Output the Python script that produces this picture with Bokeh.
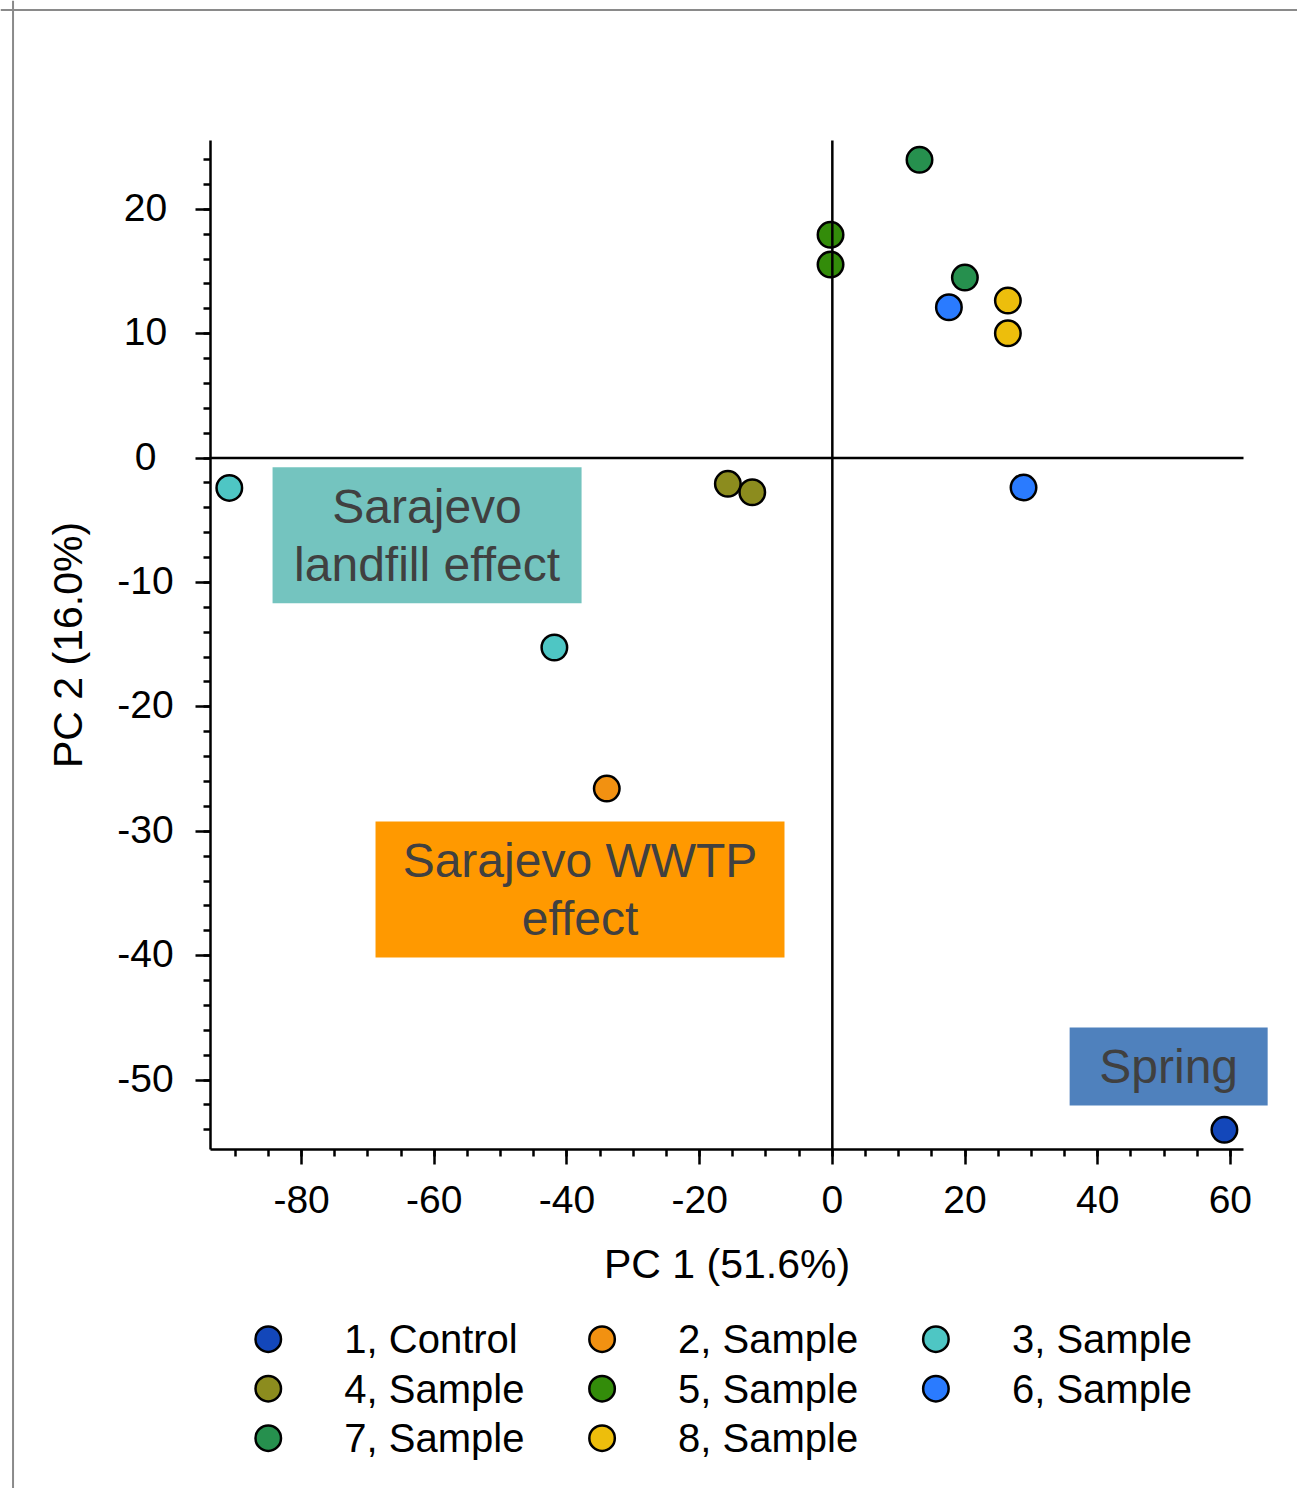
from bokeh.plotting import figure
from bokeh.models import FixedTicker, Span, Range1d, ColumnDataSource
from bokeh.core.properties import value
from bokeh.embed import file_html
from bokeh.resources import INLINE

FONT = "Liberation Sans"

# ---------------- data ----------------
group_names = ["1, Control", "2, Sample", "3, Sample", "4, Sample",
               "5, Sample", "6, Sample", "7, Sample", "8, Sample"]
group_colors = ["#1347BA", "#F29111", "#4EC6C4", "#8C8C1E",
                "#338C0A", "#2A7BFF", "#26904E", "#EDBE0C"]

pc1 = [59.1, -34.0, -90.9, -41.9, -15.75, -12.07, -0.27, -0.27,
       17.57, 28.82, 13.14, 19.98, 26.46, 26.46]
pc2 = [-54.0, -26.57, -2.40, -15.23, -2.07, -2.75, 17.94, 15.55,
       12.12, -2.37, 23.97, 14.51, 12.66, 10.03]
point_group = [0, 1, 2, 2, 3, 3, 4, 4, 5, 5, 6, 6, 7, 7]

x_ticks = [-80, -60, -40, -20, 0, 20, 40, 60]
x_tick_labels = ["-80", "-60", "-40", "-20", "0", "20", "40", "60"]
x_minor_ticks = list(range(-90, 61, 5))
y_ticks = [-50, -40, -30, -20, -10, 0, 10, 20]
y_tick_labels = ["-50", "-40", "-30", "-20", "-10", "0", "10", "20"]
y_minor_ticks = list(range(-54, 25, 2))

x_label = "PC 1 (51.6%)"
y_label = "PC 2 (16.0%)"

region_labels = ["Sarajevo\nlandfill effect", "Sarajevo WWTP\neffect", "Spring"]
region_colors = ["#74C4BF", "#FF9900", "#4F81BD"]
region_left = [-84.38, -68.86, 35.77]
region_right = [-37.80, -7.21, 65.62]
region_top = [-0.74, -29.22, -45.78]
region_bottom = [-11.67, -40.15, -52.05]

# ---------------- layout ----------------
W, H = 1297, 1488
PX_X = 6.634        # pixels per PC1 unit
PX_Y = 12.44        # pixels per PC2 unit
X_AT_LEFT = -125.39
Y_AT_TOP = 36.78

AXIS_X0, AXIS_X1 = -93.73, 61.98   # extent of the PC1 axis line
AXIS_Y0, AXIS_Y1 = -55.60, 25.52   # extent of the PC2 axis line

Y_TICKLABEL_X = -103.53
LEG_X0, LEG_DX = -85.03, 50.32
LEG_Y0, LEG_DY = -70.83, 3.98
LEG_TEXT_DX = 11.46

BORDER_X, BORDER_Y = -123.5, 36.01

p = figure(width=W, height=H,
           x_range=Range1d(X_AT_LEFT, X_AT_LEFT + W / PX_X),
           y_range=Range1d(Y_AT_TOP - H / PX_Y, Y_AT_TOP),
           output_backend="svg", toolbar_location=None, title=None,
           min_border=0)
p.min_border_left = 0
p.min_border_right = 0
p.min_border_top = 0
p.min_border_bottom = 0
p.xgrid.visible = False
p.ygrid.visible = False
p.outline_line_color = None
p.background_fill_color = "white"
p.border_fill_color = "white"

# outer frame (left/top visible edges)
p.add_layout(Span(location=BORDER_X, dimension="height", line_color="#8a8a8a", line_width=2))
p.add_layout(Span(location=BORDER_Y, dimension="width", line_color="#8a8a8a", line_width=2))

# region boxes
p.quad(left=region_left, right=region_right, top=region_top, bottom=region_bottom,
       fill_color=region_colors, line_color=None)
p.text(x=[(a + b) / 2 for a, b in zip(region_left, region_right)],
       y=[(a + b) / 2 for a, b in zip(region_top, region_bottom)],
       text=region_labels, text_align="center", text_baseline="middle",
       text_font=value(FONT), text_font_size=value("48px"),
       text_color="#404040", text_line_height=1.09)

# points
src = ColumnDataSource(dict(x=pc1, y=pc2,
                            color=[group_colors[g] for g in point_group]))
p.scatter("x", "y", source=src, size=25.5, fill_color="color",
          line_color="black", line_width=2.5)

# zero lines
p.segment(x0=[AXIS_X0, 0], y0=[0, AXIS_Y0], x1=[AXIS_X1, 0], y1=[0, AXIS_Y1],
          line_color="black", line_width=2.5)

# axes
xa = p.xaxis[0]
xa.fixed_location = AXIS_Y0
xa.bounds = (AXIS_X0, AXIS_X1)
xa.ticker = FixedTicker(ticks=x_ticks, minor_ticks=x_minor_ticks)
xa.major_label_overrides = dict(zip(x_ticks, x_tick_labels))

ya = p.yaxis[0]
ya.fixed_location = AXIS_X0
ya.bounds = (AXIS_Y0, AXIS_Y1)
ya.ticker = FixedTicker(ticks=y_ticks, minor_ticks=y_minor_ticks)
ya.major_label_overrides = {t: "" for t in y_ticks}
ya.major_label_standoff = 0

for ax in (xa, ya):
    ax.axis_line_width = 2.5
    ax.axis_line_color = "black"
    ax.major_tick_line_width = 2.5
    ax.minor_tick_line_width = 2.5
    ax.major_tick_line_color = "black"
    ax.minor_tick_line_color = "black"
    ax.major_tick_in = 0
    ax.major_tick_out = 15
    ax.minor_tick_in = 0
    ax.minor_tick_out = 7
    ax.major_label_text_font = FONT
    ax.major_label_text_font_size = "39px"
    ax.major_label_text_color = "black"
    ax.axis_label_text_font = FONT
    ax.axis_label_text_font_size = "41px"
    ax.axis_label_text_font_style = "normal"
    ax.axis_label_text_color = "black"

xa.major_label_standoff = 21
xa.axis_label = x_label
xa.axis_label_standoff = 25
ya.axis_label = y_label
ya.axis_label_standoff = 105

# y tick labels (centered, as in the original)
p.text(x=[Y_TICKLABEL_X] * len(y_ticks), y=y_ticks, text=y_tick_labels,
       text_align="center", text_baseline="middle", y_offset=-2,
       text_font=value(FONT), text_font_size=value("39px"), text_color="black")

# legend
leg_x = [LEG_X0 + (i % 3) * LEG_DX for i in range(len(group_names))]
leg_y = [LEG_Y0 - (i // 3) * LEG_DY for i in range(len(group_names))]
p.scatter(leg_x, leg_y, size=25.5, fill_color=group_colors,
          line_color="black", line_width=2.5)
p.text(x=[x + LEG_TEXT_DX for x in leg_x], y=leg_y, text=group_names,
       text_align="left", text_baseline="middle",
       text_font=value(FONT), text_font_size=value("40px"), text_color="black")

open("out.html", "w").write(file_html(p, INLINE))
